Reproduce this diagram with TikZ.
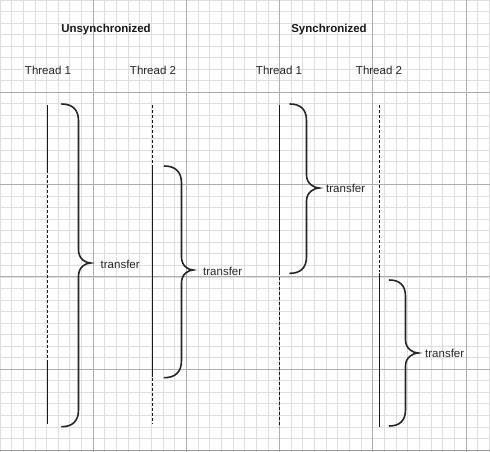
\documentclass[tikz,border=0pt]{standalone}
\usepackage{fontspec}
\setmainfont{Liberation Sans}
\begin{document}
\begin{tikzpicture}[x=1pt,y=-1pt,
  minorline/.style={draw=black!13,line width=0.9pt},
  majorline/.style={draw=black!32,line width=0.9pt},
  solidthread/.style={draw=black!90,line width=1.7pt},
  dashthread/.style={draw=black!90,line width=1.7pt,dash pattern=on 3pt off 2pt},
  bracestyle/.style={draw=black!85,line width=1.6pt,line cap=round},
  lbl/.style={font=\fontsize{11.5}{13}\selectfont,text=black!85,inner sep=0pt},
  titlelbl/.style={font=\fontsize{11.5}{13}\selectfont\bfseries,text=black!90,inner sep=0pt},
  trlbl/.style={font=\fontsize{11.5}{13}\selectfont,text=black!85,inner sep=0pt,anchor=west}]
\useasboundingbox (0,0) rectangle (490,452);
\fill[white] (0,0) rectangle (490,452);
% grid
\foreach \i in {0,...,42} {\draw[minorline] (\i*11.65,0) -- (\i*11.65,452);}
\foreach \j in {0,...,39} {\draw[minorline] (0,\j*11.54) -- (490,\j*11.54);}
\foreach \i in {1,...,5} {\draw[majorline] (\i*93.2,0) -- (\i*93.2,452);}
\foreach \j in {1,...,4} {\draw[majorline] (0,\j*92.3) -- (490,\j*92.3);}
\draw[draw=black!40,line width=1pt] (0,450.5) -- (490,450.5);

% titles
\node[titlelbl] (tu) at (106,30) {Unsynchronized};
\node[titlelbl] (ts) at (329,30) {Synchronized};
\node[lbl] (u1) at (48,70) {Thread 1};
\node[lbl] (u2) at (153,70) {Thread 2};
\node[lbl] (s1) at (279,70) {Thread 1};
\node[lbl] (s2) at (379,70) {Thread 2};

% unsynchronized thread 1
\coordinate (a0) at (47.5,105);
\coordinate (a1) at (47.5,173);
\coordinate (a2) at (47.5,175);
\coordinate (a3) at (47.5,360);
\coordinate (a4) at (47.5,424);
\draw[solidthread] (a0) -- (a1);
\draw[dashthread] (a2) -- (a3);
\draw[solidthread] (a3) -- (a4);

% unsynchronized thread 2
\coordinate (b0) at (152.5,105);
\coordinate (b1) at (152.5,164);
\coordinate (b2) at (152.5,165);
\coordinate (b3) at (152.5,377);
\coordinate (b4) at (152.5,378);
\coordinate (b5) at (152.5,424);
\draw[dashthread] (b0) -- (b1);
\draw[solidthread] (b2) -- (b3);
\draw[dashthread] (b4) -- (b5);

% synchronized thread 1
\coordinate (c0) at (279.5,105);
\coordinate (c1) at (279.5,275);
\coordinate (c2) at (279.5,277);
\coordinate (c3) at (279.5,427);
\draw[solidthread] (c0) -- (c1);
\draw[dashthread] (c2) -- (c3);

% synchronized thread 2
\coordinate (d0) at (379.5,105);
\coordinate (d1) at (379.5,272);
\coordinate (d2) at (379.5,273);
\coordinate (d3) at (379.5,427);
\draw[dashthread] (d0) -- (d1);
\draw[solidthread] (d2) -- (d3);

% braces: #1 x start, #2 x vertical, #3 x tip, #4 y top, #5 y mid, #6 y bottom
\newcommand{\mybrace}[6]{%
  \draw[bracestyle] (#1,#4) .. controls ({#1+0.6*(#2-#1)},#4) and (#2,{#4+0.3*(#2-#1)}) .. (#2,{#4+(#2-#1)})
    -- (#2,{#5-13}) .. controls (#2,{#5-4}) and ({#3-5},#5) .. (#3,#5)
    .. controls ({#3-5},#5) and (#2,{#5+4}) .. (#2,{#5+13})
    -- (#2,{#6-(#2-#1)}) .. controls (#2,{#6-0.3*(#2-#1)}) and ({#1+0.6*(#2-#1)},#6) .. (#1,#6);}

\mybrace{61.7}{78.5}{90.7}{104}{263}{426.7}
\node[trlbl] (t1) at (100.5,264) {transfer};
\mybrace{164.3}{181.5}{193.3}{166}{270}{377.7}
\node[trlbl] (t2) at (203,271) {transfer};
\mybrace{290}{306.5}{319.3}{104}{188}{273.3}
\node[trlbl] (t3) at (326,188.5) {transfer};
\mybrace{389.3}{405.5}{418.3}{280}{353}{426}
\node[trlbl] (t4) at (425,353.5) {transfer};
\end{tikzpicture}
\end{document}
